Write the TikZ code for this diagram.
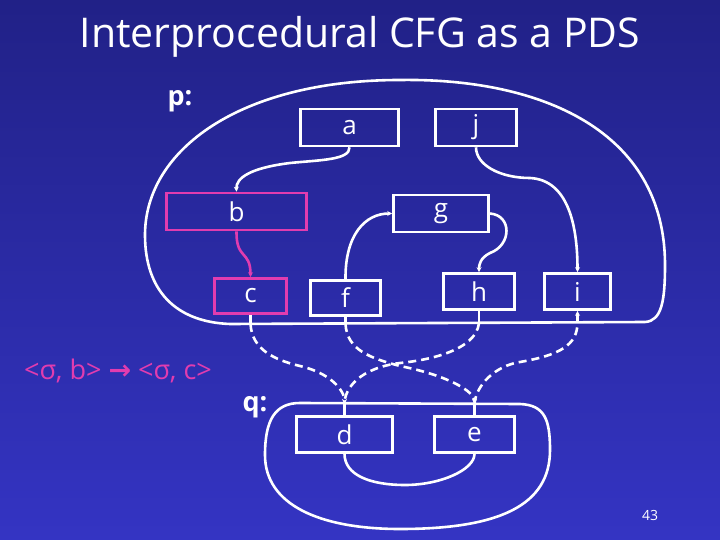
\documentclass[tikz,border=0pt]{standalone}
\usepackage{fontspec}
\setmainfont{Open Sans}
\newfontfamily\symfont{DejaVu Sans}
\usetikzlibrary{arrows.meta}
\definecolor{bgtop}{RGB}{33,33,135}
\definecolor{bgbot}{RGB}{52,52,195}
\definecolor{pinkc}{RGB}{225,60,175}
\tikzset{
  blk/.style={draw=white, line width=2.6pt, minimum height=37pt, inner sep=0pt, text=white, font=\fontsize{26}{28}\selectfont},
  pblk/.style={blk, draw=pinkc},
  flow/.style={draw=white, line width=2.6pt, -{Stealth[length=5pt,width=5pt]}},
  pflow/.style={flow, draw=pinkc},
  plain/.style={draw=white, line width=2.6pt},
  dflow/.style={draw=white, line width=2.6pt, dash pattern=on 8pt off 5pt},
  bound/.style={draw=white, line width=2.6pt},
  lbl/.style={text=white, font=\fontsize{27}{29}\selectfont\bfseries},
}
\begin{document}
\begin{tikzpicture}[x=1pt,y=-1pt]
\shade[top color=bgtop, bottom color=bgbot] (0,0) rectangle (720,540);
\useasboundingbox (0,0) rectangle (720,540);

\node[text=white, font=\fontsize{41}{44}\selectfont] (title) at (360,37) {Interprocedural CFG as a PDS};
\node[lbl] (plbl) at (180,101) {p:};
\node[lbl] (qlbl) at (255,407) {q:};
\node[text=pinkc, font=\fontsize{27}{29}\selectfont] (rule) at (118,371) {<σ, b> {\symfont\bfseries →} <σ, c>};
\node[text=white, font=\fontsize{14}{15}\selectfont] (pg) at (650,515) {43};

% procedure boundaries
\draw[bound] (645,322) -- (230,324) .. controls (175,322) and (145,290) .. (145,235)
  .. controls (145,150) and (240,80) .. (400,80)
  .. controls (540,78) and (665,130) .. (665,265)
  .. controls (665,300) and (662,321) .. (645,322);
\draw[bound] (300,403) -- (520,404) .. controls (545,405) and (550,420) .. (550,450)
  .. controls (550,505) and (500,529) .. (400,529)
  .. controls (320,529) and (265,505) .. (265,455)
  .. controls (265,420) and (275,403) .. (300,403) -- cycle;

% nodes
\node[blk, minimum width=98pt] (a) at (349.5,127.5) {a};
\node[blk, minimum width=81pt] (j) at (476,127.5) {j};
\node[pblk, minimum width=140pt] (b) at (236.5,211.5) {b};
\node[blk, minimum width=95pt] (g) at (441,213.5) {g};
\node[pblk, minimum width=72pt, minimum height=35pt] (c) at (250.5,296) {c};
\node[blk, minimum width=70pt, minimum height=35pt] (f) at (345.5,298) {f};
\node[blk, minimum width=71pt, minimum height=36pt] (h) at (479,291.5) {h};
\node[blk, minimum width=66pt, minimum height=36pt] (i) at (577.5,291.5) {i};
\node[blk, minimum width=96pt, minimum height=36pt] (d) at (344.5,434.5) {d};
\node[blk, minimum width=80pt, minimum height=36pt] (e) at (474.5,434.5) {e};

% crossing points on boundaries
\coordinate (cp) at (250.5,324);
\coordinate (fp) at (345.5,324);
\coordinate (hp) at (479,323);
\coordinate (ip) at (577.5,322.5);
\coordinate (dq) at (344.5,404);
\coordinate (eq) at (474.5,404);
\coordinate (ab) at (290,163);
\coordinate (ji) at (530,178);
\coordinate (gh) at (490,253);
\coordinate (cd) at (300,366);
\coordinate (fe) at (400,366);
\coordinate (hd) at (400,363);
\coordinate (ei) at (520,362);
\coordinate (de) at (405,485);

% intraprocedural edges
\draw[flow] (a.south) .. controls (350,160) and (320,160) .. (ab) .. controls (250,168) and (236,178) .. (b.north);
\draw[flow] (j.south) .. controls (476,165) and (500,178) .. (ji) .. controls (568,180) and (577.5,225) .. (i.north);
\draw[pflow] (b.south) .. controls (236,260) and (250.5,250) .. (c.north);
\draw[flow] (f.north) .. controls (345,235) and (365,213.5) .. (g.west);
\draw[flow] (g.east) .. controls (512,215) and (512,245) .. (gh) .. controls (480,258) and (479,265) .. (h.north);
\draw[plain] (d.south) .. controls (344.5,475) and (370,485) .. (de) .. controls (440,485) and (474.5,470) .. (e.south);

% stubs
\draw[plain] (c.south) -- (cp);
\draw[plain] (f.south) -- (fp);
\draw[plain] (h.south) -- (hp);
\draw[flow] (ip) -- (i.south);
\draw[plain] (dq) -- (d.north);
\draw[plain] (eq) -- (e.north);

% interprocedural edges
\draw[dflow, -{Stealth[length=5pt,width=5pt]}] (cp) .. controls (252,350) and (275,360) .. (cd) .. controls (330,373) and (344.5,390) .. (dq);
\draw[dflow, -{Stealth[length=5pt,width=5pt]}] (fp) .. controls (347,350) and (370,358) .. (fe) .. controls (450,376) and (474.5,392) .. (eq);
\draw[dflow] (hp) .. controls (476,350) and (430,360) .. (hd) .. controls (360,368) and (344.5,388) .. (dq);
\draw[dflow] (eq) .. controls (476,385) and (495,366) .. (ei) .. controls (560,355) and (577.5,345) .. (ip);
\end{tikzpicture}
\end{document}
